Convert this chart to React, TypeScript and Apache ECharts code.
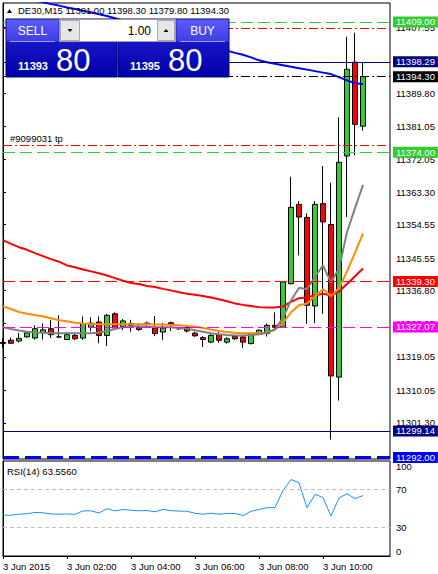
import React, { useEffect, useRef } from "react";
import * as echarts from "echarts";

const symbolName = "DE30,M15";
const opens = [11322.6, 11323.5, 11323.3, 11324.4, 11324.1, 11325.6, 11326.6, 11324.4, 11323.7, 11324.8, 11324.1, 11327.0, 11328.4, 11324.8, 11330.6, 11327.2, 11327.5, 11327.0, 11327.8, 11326.8, 11325.7, 11328.2, 11326.6, 11326.9, 11325.4, 11324.2, 11323.0, 11325.0, 11323.0, 11324.5, 11324.4, 11322.6, 11325.1, 11325.3, 11327.5, 11327.0, 11338.7, 11360.0, 11356.5, 11332.7, 11360.2, 11354.6, 11313.6, 11373.0, 11398.2, 11381.0];
const highs = [11324.0, 11324.2, 11325.5, 11325.9, 11327.5, 11328.0, 11329.0, 11330.2, 11325.6, 11325.4, 11329.9, 11329.7, 11329.9, 11330.6, 11331.0, 11329.2, 11329.0, 11328.0, 11328.5, 11330.0, 11328.2, 11328.5, 11326.8, 11327.2, 11325.8, 11324.6, 11325.3, 11325.7, 11324.3, 11325.0, 11324.9, 11325.5, 11326.4, 11328.0, 11331.0, 11339.4, 11367.4, 11360.9, 11357.6, 11360.9, 11370.3, 11365.8, 11383.4, 11405.0, 11406.1, 11398.3];
const lows = [11321.5, 11322.6, 11322.9, 11324.2, 11323.7, 11323.7, 11324.1, 11324.1, 11323.6, 11323.6, 11323.6, 11325.9, 11322.7, 11322.0, 11326.6, 11326.2, 11325.8, 11326.0, 11327.4, 11324.6, 11323.6, 11326.0, 11326.3, 11325.6, 11324.4, 11321.7, 11322.7, 11322.8, 11322.6, 11323.6, 11321.4, 11322.4, 11324.9, 11324.5, 11326.7, 11326.8, 11338.5, 11346.3, 11327.9, 11328.1, 11330.6, 11296.8, 11307.3, 11356.6, 11373.2, 11379.8];
const closes = [11322.9, 11322.7, 11324.0, 11325.5, 11326.6, 11326.3, 11325.0, 11324.4, 11325.0, 11323.9, 11328.0, 11328.1, 11324.8, 11330.2, 11326.8, 11328.7, 11328.0, 11326.4, 11328.1, 11325.3, 11326.8, 11327.7, 11326.6, 11326.0, 11324.7, 11323.7, 11324.8, 11323.5, 11323.9, 11323.9, 11323.0, 11325.3, 11326.2, 11327.5, 11327.0, 11339.2, 11359.2, 11356.6, 11332.9, 11360.0, 11355.3, 11313.9, 11371.3, 11396.3, 11381.5, 11394.3];

const maBlue = [11416.6, 11416.1, 11415.7, 11415.2, 11414.8, 11414.3, 11413.8, 11413.4, 11412.9, 11412.5, 11412.0, 11411.6, 11411.1, 11410.6, 11410.0, 11409.4, 11408.7, 11408.1, 11407.5, 11406.9, 11406.3, 11405.6, 11405.0, 11404.4, 11403.8, 11403.2, 11402.5, 11401.9, 11401.3, 11400.7, 11400.2, 11399.5, 11398.7, 11398.2, 11397.8, 11397.4, 11397.0, 11396.6, 11396.2, 11395.8, 11395.4, 11395.0, 11394.2, 11393.3, 11392.6, 11392.3];
const maRed = [11350.4, 11349.4, 11348.5, 11347.8, 11346.9, 11346.1, 11345.3, 11344.6, 11343.6, 11343.1, 11342.5, 11342.0, 11341.5, 11340.9, 11340.2, 11339.5, 11338.9, 11338.6, 11338.1, 11337.8, 11337.3, 11336.9, 11336.4, 11336.0, 11335.7, 11335.4, 11335.0, 11334.5, 11334.0, 11333.4, 11333.0, 11332.7, 11332.4, 11332.3, 11332.3, 11332.6, 11333.8, 11334.8, 11335.0, 11335.6, 11336.0, 11335.5, 11336.6, 11338.6, 11340.7, 11342.8];
const maOrange = [11332.6, 11331.9, 11331.1, 11330.6, 11330.3, 11329.9, 11329.4, 11328.9, 11328.6, 11328.2, 11328.0, 11327.9, 11327.8, 11327.8, 11327.8, 11327.8, 11327.8, 11327.8, 11327.8, 11327.7, 11327.7, 11327.6, 11327.5, 11327.3, 11327.2, 11326.8, 11326.4, 11326.0, 11325.7, 11325.5, 11325.4, 11325.4, 11325.4, 11325.6, 11326.3, 11328.2, 11331.0, 11332.9, 11333.4, 11335.3, 11337.3, 11335.4, 11337.5, 11342.0, 11347.0, 11352.2];
const maGray = [11327.0, 11326.5, 11326.1, 11325.8, 11325.6, 11325.5, 11325.4, 11325.4, 11325.4, 11325.4, 11325.4, 11325.4, 11325.6, 11326.0, 11326.5, 11327.0, 11327.2, 11327.2, 11327.2, 11327.0, 11327.0, 11327.0, 11326.8, 11326.6, 11326.2, 11325.8, 11325.4, 11325.1, 11324.9, 11324.8, 11324.8, 11324.9, 11325.1, 11325.5, 11326.5, 11329.5, 11334.2, 11337.6, 11337.2, 11340.5, 11343.6, 11339.0, 11342.8, 11352.5, 11359.0, 11365.2];
const rsiValues = [42.9, 42.9, 44.0, 44.5, 45.8, 45.5, 44.2, 44.0, 44.2, 43.8, 47.5, 47.5, 45.3, 49.8, 47.5, 49.0, 48.2, 47.6, 47.8, 46.5, 49.0, 47.7, 47.3, 47.1, 45.0, 44.0, 45.0, 44.0, 44.8, 44.8, 42.6, 47.0, 49.0, 50.8, 51.0, 69.0, 80.5, 77.0, 50.7, 65.0, 61.5, 42.0, 61.0, 65.5, 60.5, 63.556];

const timeTickIndex = [0, 8, 16, 24, 32, 40];
const timeTickLabels = ["3 Jun 2015", "3 Jun 02:00", "3 Jun 04:00", "3 Jun 06:00", "3 Jun 08:00", "3 Jun 10:00"];
const priceTicks = [11407.55, 11389.8, 11381.05, 11372.05, 11363.3, 11354.55, 11345.55, 11336.8, 11328.05, 11319.05, 11310.05, 11301.3];
const rsiTicks = [0, 30, 70, 100];
const rsiLevels = [30, 70];
const rsiName = "RSI(14)";

// horizontal price levels
const levelPrices = [11409.0, 11407.4, 11398.29, 11394.3, 11375.9, 11374.0, 11339.3, 11327.07, 11299.14, 11292.0];
const tpOrderLabel = "#9099031 tp";

const sellPrice = "11393";
const sellPips = "80";
const buyPrice = "11395";
const buyPips = "80";
const lotSize = "1.00";

const FONT = "'Liberation Sans', Arial, sans-serif";

export default function App() {
  const ref = useRef<HTMLDivElement>(null);
  useEffect(() => {
    if (!ref.current) return;
    const chart = echarts.init(ref.current, null, { renderer: "svg" });
    const n = opens.length;
    const candleData = opens.map((o, i) => [i, o, closes[i], lows[i], highs[i]]);
    const toXY = (arr: number[]) => arr.map((v, i) => [i, v]);

    const green = "#32CD32";
    const dashLong = [12, 5];
    const dashDot = [9, 3, 2, 3];
    const levelStyles: any[] = [
      { color: green, type: dashLong, box: green },
      { color: "#FF0000", type: dashDot, box: null },
      { color: "#000080", type: "solid", box: "#000080" },
      { color: "#000000", type: dashDot, box: "#000000" },
      { color: "#FF0000", type: dashDot, box: null, text: tpOrderLabel },
      { color: green, type: dashLong, box: green },
      { color: "#FF0000", type: dashLong, box: "#FF0000" },
      { color: "#FF00FF", type: dashLong, box: "#FF00FF" },
      { color: "#000080", type: "solid", box: "#000080" },
      { color: "#0000FF", type: [16, 6], box: "#0000FF", width: 3 },
    ];
    const markData = levelPrices.map((p, i) => {
      const s = levelStyles[i];
      let label: any = { show: false };
      if (s.box) {
        label = {
          show: true,
          position: "end",
          distance: 3,
          formatter: () => p.toFixed(2),
          backgroundColor: s.box,
          color: "#fff",
          padding: [1, 3, 0, 3],
          fontSize: 9.5,
          fontFamily: FONT,
          lineHeight: 10,
        };
      } else if (s.text) {
        label = {
          show: true,
          position: "insideStartTop",
          distance: [7, 2],
          formatter: () => s.text,
          color: "#000",
          fontSize: 9.5,
          fontFamily: FONT,
        };
      }
      return {
        yAxis: p,
        lineStyle: { color: s.color, type: s.type, width: s.width || 1 },
        label,
      };
    });

    const gradUpper = { type: "linear", x: 0, y: 0, x2: 0, y2: 1, colorStops: [{ offset: 0, color: "#5C5CF6" }, { offset: 1, color: "#3E3EE6" }] };
    const gradLower = { type: "linear", x: 0, y: 0, x2: 0, y2: 1, colorStops: [{ offset: 0, color: "#2424DA" }, { offset: 1, color: "#0000A8" }] };

    const block = (x0: number, btnX: number, btnLabel: string, price: string, pips: string) => [
      { type: "rect", shape: { x: x0, y: 19, width: 111, height: 58 }, style: { fill: gradLower, stroke: "#00006A", lineWidth: 1 } },
      { type: "rect", shape: { x: btnX + 0.5, y: 19.5, width: 52, height: 22 }, style: { fill: gradUpper } },
      { type: "line", shape: { x1: btnX + 4, y1: 41.5, x2: btnX + 49, y2: 41.5 }, style: { stroke: "#9C9CFF", lineWidth: 1 } },
      { type: "text", x: btnX + 26.5, y: 31, style: { text: btnLabel, fill: "#fff", fontSize: 12, fontFamily: FONT, align: "center", verticalAlign: "middle" } },
      { type: "text", x: x0 + 12, y: 65.5, style: { text: price, fill: "#fff", fontSize: 11, fontWeight: "bold", fontFamily: FONT, align: "left", verticalAlign: "middle" } },
      { type: "text", x: x0 + 50, y: 60, style: { text: pips, fill: "#fff", fontSize: 31, fontFamily: FONT, align: "left", verticalAlign: "middle" } },
    ];

    const panelChildren: any[] = [
      ...block(6, 6, "SELL", sellPrice, sellPips),
      ...block(118, 176, "BUY", buyPrice, buyPips),
      { type: "rect", shape: { x: 59.5, y: 19.5, width: 116, height: 22 }, style: { fill: "#fff", stroke: "#A0A0A0", lineWidth: 1 } },
      { type: "rect", shape: { x: 60.5, y: 20.5, width: 19, height: 20 }, style: { fill: "#E6E6E6", stroke: "#A8A8A8", lineWidth: 1 } },
      { type: "polygon", shape: { points: [[67.5, 29], [72.5, 29], [70, 32]] }, style: { fill: "#000" } },
      { type: "rect", shape: { x: 157.5, y: 20.5, width: 17, height: 20 }, style: { fill: "#E6E6E6", stroke: "#A8A8A8", lineWidth: 1 } },
      { type: "polygon", shape: { points: [[163.5, 32], [168.5, 32], [166, 29]] }, style: { fill: "#000" } },
      { type: "text", x: 151, y: 30.5, style: { text: lotSize, fill: "#000", fontSize: 12, fontFamily: FONT, align: "right", verticalAlign: "middle" } },
    ].map((el, k) => ({ ...el, z: 100 + k, zlevel: 0 }));

    const option: any = {
      animation: false,
      backgroundColor: "#fff",
      title: [
        { text: symbolName + " " + [opens[n - 1], highs[n - 1], lows[n - 1], closes[n - 1]].map((v) => v.toFixed(2)).join(" "), left: 18, top: 5, padding: 0, textStyle: { fontSize: 9.5, fontWeight: "normal", color: "#000", fontFamily: FONT } },
        { text: rsiName + " " + rsiValues[n - 1].toFixed(4), left: 7, top: 466, padding: 0, textStyle: { fontSize: 9.5, fontWeight: "normal", color: "#000", fontFamily: FONT } },
      ],
      grid: [
        { left: 3, top: 3, right: 48, height: 456, show: true, borderColor: "#000", borderWidth: 1, backgroundColor: "#fff" },
        { left: 3, top: 461, right: 48, height: 95, show: true, borderColor: "#000", borderWidth: 1, backgroundColor: "#fff" },
      ],
      xAxis: [
        { type: "value", gridIndex: 0, min: 0, max: 48.375, show: false, splitLine: { show: false } },
        {
          type: "value", gridIndex: 1, min: 0, max: 48.375,
          splitLine: { show: false },
          axisLine: { show: true, lineStyle: { color: "#000" } },
          axisTick: { show: true, customValues: timeTickIndex, length: 3, lineStyle: { color: "#000" } },
          axisLabel: {
            show: true, customValues: timeTickIndex, align: "left", margin: 5, color: "#000", fontSize: 9.5, fontFamily: FONT,
            formatter: (v: number) => timeTickLabels[timeTickIndex.indexOf(Math.round(v))] || "",
          },
        },
      ],
      yAxis: [
        {
          type: "value", gridIndex: 0, position: "right", min: 11291.6, max: 11414.1, scale: true,
          splitLine: { show: false },
          axisLine: { show: true, lineStyle: { color: "#000" } },
          axisTick: { show: true, customValues: priceTicks, length: 3, lineStyle: { color: "#000" } },
          axisLabel: { show: true, customValues: priceTicks, margin: 6, color: "#000", fontSize: 9.5, fontFamily: FONT, formatter: (v: number) => v.toFixed(2) },
        },
        {
          type: "value", gridIndex: 1, position: "right", min: 0, max: 100,
          splitLine: { show: false },
          axisLine: { show: true, lineStyle: { color: "#000" } },
          axisTick: { show: false },
          axisLabel: {
            show: true, customValues: rsiTicks, margin: 6, color: "#000", fontSize: 9.5, fontFamily: FONT,
            verticalAlignMinLabel: "bottom", verticalAlignMaxLabel: "top",
            formatter: (v: number) => String(v),
          },
        },
      ],
      series: [
        {
          type: "candlestick", xAxisIndex: 0, yAxisIndex: 0, data: candleData, barWidth: 5,
          itemStyle: { color: green, color0: "#FF0000", borderColor: "#000", borderColor0: "#000", borderWidth: 1 },
          markLine: { silent: true, symbol: ["none", "none"], data: markData },
        },
        { type: "line", xAxisIndex: 0, yAxisIndex: 0, data: toXY(maBlue), symbol: "none", lineStyle: { color: "#0000FF", width: 2 } },
        { type: "line", xAxisIndex: 0, yAxisIndex: 0, data: toXY(maRed), symbol: "none", lineStyle: { color: "#FF0000", width: 2 } },
        { type: "line", xAxisIndex: 0, yAxisIndex: 0, data: toXY(maOrange), symbol: "none", lineStyle: { color: "#FF8C00", width: 2 } },
        { type: "line", xAxisIndex: 0, yAxisIndex: 0, data: toXY(maGray), symbol: "none", lineStyle: { color: "#808080", width: 2 } },
        {
          type: "line", xAxisIndex: 1, yAxisIndex: 1, data: toXY(rsiValues), symbol: "none", lineStyle: { color: "#1E90FF", width: 1 },
          markLine: { silent: true, symbol: ["none", "none"], label: { show: false }, lineStyle: { color: "#C0C0C0", type: [4, 3], width: 1 }, data: rsiLevels.map((v) => ({ yAxis: v })) },
        },
      ],
      graphic: [
        { type: "polygon", z: 100, shape: { points: [[7, 13], [12, 13], [9.5, 9]] }, style: { fill: "#000" } },
        ...panelChildren,
      ],
    };
    chart.setOption(option);
    return () => chart.dispose();
  }, []);
  return <div ref={ref} style={{ position: "fixed", left: 0, top: 0, width: 438, height: 574, background: "#fff" }} />;
}
